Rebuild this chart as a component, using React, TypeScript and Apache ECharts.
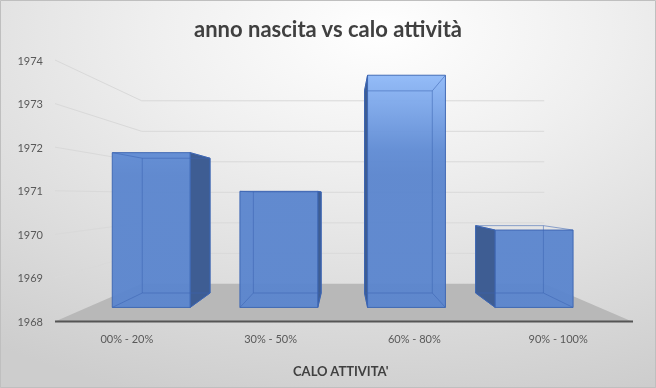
import React, { useEffect, useRef } from "react";
import * as echarts from "echarts";

const categories = ["00% - 20%", "30% - 50%", "60% - 80%", "90% - 100%"];
const birthYears = [1972, 1971, 1974, 1970];
const yTicks = [1968, 1969, 1970, 1971, 1972, 1973, 1974];
const yMin = 1968;
const yMax = 1974;
const chartTitle = "anno nascita vs calo attività";
const xAxisTitle = "CALO ATTIVITA'";

const FONT = "Lato, 'Open Sans', sans-serif";

function vanish(cs: any) {
  return { vx: cs.x + cs.width / 2 + 1.5, vy: cs.y + cs.height * 0.52 };
}

export default function App() {
  const ref = useRef<HTMLDivElement>(null);
  useEffect(() => {
    if (!ref.current) return;
    const chart = echarts.init(ref.current, null, { renderer: "svg" });

    const gridItem = (params: any, api: any) => {
      const cs = params.coordSys;
      const { vx, vy } = vanish(cs);
      const P = (x: number, y: number, s: number) => [vx + (x - vx) * s, vy + (y - vy) * s];
      const sW = 0.7;
      const t = api.value(1);
      const y = api.coord([0, t])[1];
      const xL = cs.x;
      const xR = cs.x + cs.width;
      if (t === yMin) {
        return {
          type: "group",
          children: [
            {
              type: "polygon",
              shape: { points: [[xL, y], [xR + 2, y], P(xR, y, sW), P(xL, y, sW)] },
              style: { fill: "#b8b8b8", stroke: "none" },
            },
            {
              type: "line",
              shape: { x1: xL, y1: y, x2: xR + 3, y2: y },
              style: { stroke: "#555555", lineWidth: 2 },
            },
          ],
        };
      }
      return {
        type: "polyline",
        shape: { points: [[xL, y], P(xL, y, sW), P(xR, y, sW)] },
        style: { stroke: "#d9d9d9", lineWidth: 1, fill: "none" },
      };
    };

    const barItem = (params: any, api: any) => {
      const cs = params.coordSys;
      const { vx, vy } = vanish(cs);
      const P = (x: number, y: number, s: number) => [vx + (x - vx) * s, vy + (y - vy) * s];
      const idx = api.value(0);
      const val = api.value(1);
      const top = api.coord([idx, val]);
      const base = api.coord([idx, yMin]);
      const half = api.size([1, 0])[0] * 0.305;
      const xl = top[0] - half;
      const xr = top[0] + half;
      const yt = top[1];
      const yb = base[1];
      const sF = 0.888;
      const sB = 0.773;
      const FLB = P(xl, yb, sF), FRB = P(xr, yb, sF), FLT = P(xl, yt, sF), FRT = P(xr, yt, sF);
      const BLB = P(xl, yb, sB), BRB = P(xr, yb, sB), BLT = P(xl, yt, sB), BRT = P(xr, yt, sB);
      const edge = "#3d66b2";
      const hidden = "rgba(60,100,178,0.55)";
      const children: any[] = [];
      const sideFill = "#3e5d93";
      if (FRB[0] < vx) {
        children.push({
          type: "polygon",
          shape: { points: [FRB, BRB, BRT, FRT] },
          style: { fill: sideFill, stroke: edge, lineWidth: 1 },
        });
      }
      if (FLB[0] > vx) {
        children.push({
          type: "polygon",
          shape: { points: [FLB, BLB, BLT, FLT] },
          style: { fill: sideFill, stroke: edge, lineWidth: 1 },
        });
      }
      const grad = new echarts.graphic.LinearGradient(
        0,
        cs.y + 15,
        0,
        cs.y + 115,
        [
          { offset: 0, color: "#8fb9f8" },
          { offset: 0.75, color: "#5f8bd4" },
          { offset: 1, color: "#5a85ce" },
        ],
        true
      );
      children.push({
        type: "polygon",
        shape: { points: [FLB, FRB, FRT, FLT] },
        style: { fill: grad, stroke: edge, lineWidth: 1, opacity: 0.95 },
      });
      children.push({
        type: "polyline",
        shape: { points: [BLB, BRB, BRT, BLT, BLB] },
        style: { stroke: hidden, lineWidth: 1, fill: "none" },
      });
      [
        [FLB, BLB],
        [FRB, BRB],
        [FLT, BLT],
        [FRT, BRT],
      ].forEach(([a, b]) => {
        children.push({
          type: "line",
          shape: { x1: a[0], y1: a[1], x2: b[0], y2: b[1] },
          style: { stroke: hidden, lineWidth: 1 },
        });
      });
      return { type: "group", children };
    };

    chart.setOption({
      animation: false,
      backgroundColor: {
        type: "radial",
        x: 0.58,
        y: 0.08,
        r: 1.0,
        colorStops: [
          { offset: 0, color: "#ffffff" },
          { offset: 0.35, color: "#efefef" },
          { offset: 1, color: "#cdcdcd" },
        ],
      },
      title: [
        {
          text: chartTitle,
          left: "center",
          top: 12,
          textStyle: { fontFamily: FONT, fontWeight: "bold", fontSize: 22, color: "#404040" },
        },
        {
          text: xAxisTitle,
          left: 288,
          top: 359,
          textStyle: { fontFamily: FONT, fontWeight: "bold", fontSize: 13, color: "#404040" },
        },
      ],
      grid: { left: 55, right: 26, top: 60, bottom: 66.5, containLabel: false },
      xAxis: {
        type: "category",
        data: categories,
        axisLine: { show: false },
        axisTick: { show: false },
        splitLine: { show: false },
        axisLabel: { color: "#595959", fontSize: 11, fontFamily: FONT, margin: 11 },
      },
      yAxis: {
        type: "value",
        min: yMin,
        max: yMax,
        interval: 1,
        axisLine: { show: false },
        axisTick: { show: false },
        splitLine: { show: false },
        axisLabel: {
          color: "#595959",
          fontSize: 11,
          fontFamily: FONT,
          margin: 12,
          formatter: (v: number) => String(v),
        },
      },
      graphic: [
        {
          type: "rect",
          shape: { x: 0.5, y: 0.5, width: 655, height: 387 },
          style: { fill: "none", stroke: "#bfbfbf", lineWidth: 1 },
          z: 100,
          silent: true,
        },
      ],
      series: [
        {
          type: "custom",
          z: 1,
          renderItem: gridItem,
          data: yTicks.map((t) => [0, t]),
          silent: true,
        },
        {
          type: "custom",
          z: 2,
          renderItem: barItem,
          data: birthYears.map((v, i) => [i, v]),
        },
      ],
    });
    return () => chart.dispose();
  }, []);
  return (
    <div
      ref={ref}
      style={{ position: "fixed", left: 0, top: 0, width: 656, height: 388 }}
    />
  );
}
